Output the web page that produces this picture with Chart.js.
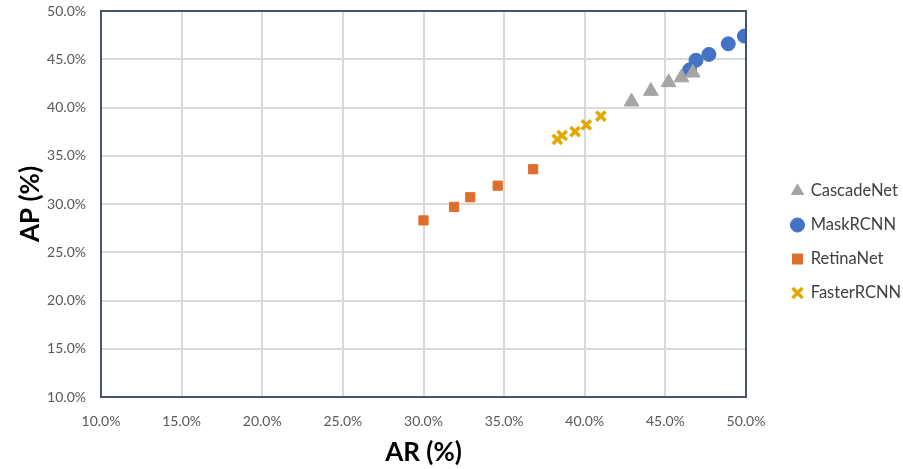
<!DOCTYPE html>
<html>
<head>
<meta charset="utf-8">
<script src="https://cdn.jsdelivr.net/npm/chart.js@4/dist/chart.umd.min.js"></script>
<style>
  html, body { margin: 0; padding: 0; background: #ffffff; }
  #wrap { width: 903px; height: 469px; }
</style>
</head>
<body>
<div id="wrap"><canvas id="c" width="903" height="469"></canvas></div>
<script>
// Recall (AR, %) vs precision (AP, %) for each detector family
const cascadeAR = [42.9, 44.1, 45.2, 46.0, 46.7];
const cascadeAP = [40.6, 41.7, 42.6, 43.1, 43.6];
const maskAR = [46.5, 46.9, 47.7, 48.9, 49.9];
const maskAP = [43.9, 44.9, 45.5, 46.6, 47.4];
const retinaAR = [30.0, 31.9, 32.9, 34.6, 36.8];
const retinaAP = [28.3, 29.7, 30.7, 31.9, 33.6];
const fasterAR = [38.3, 38.6, 39.4, 40.1, 41.0];
const fasterAP = [36.7, 37.1, 37.5, 38.2, 39.1];

const seriesNames = ['CascadeNet', 'MaskRCNN', 'RetinaNet', 'FasterRCNN'];
const axisTicks = [10, 15, 20, 25, 30, 35, 40, 45, 50];

const pairs = (xs, ys) => xs.map((x, i) => ({ x: x, y: ys[i] }));
const pct = v => v.toFixed(1) + '%';

// Dark frame around the plotting area
const frame = {
  id: 'frame',
  afterDatasetsDraw(chart) {
    const a = chart.chartArea, ctx = chart.ctx;
    ctx.save();
    ctx.strokeStyle = '#44546A';
    ctx.lineWidth = 2;
    ctx.strokeRect(a.left, a.top, a.right - a.left, a.bottom - a.top);
    ctx.restore();
  }
};

// Reserve a fixed-width column for the legend and inset its entries
const LEGEND_WIDTH = 157;
const LEGEND_INSET = 29;
const LEGEND_DROP = 2;
const legendColumn = {
  id: 'legendColumn',
  beforeLayout(chart) {
    const lg = chart.legend;
    if (lg && !lg._fixedFit) {
      const fit = lg.fit;
      lg.fit = function () { fit.call(this); this.width = LEGEND_WIDTH; };
      lg._fixedFit = true;
    }
  },
  afterLayout(chart) {
    const lg = chart.legend;
    if (lg) {
      lg.left += LEGEND_INSET; lg.right += LEGEND_INSET;
      lg.top += LEGEND_DROP; lg.bottom += LEGEND_DROP;
    }
  }
};

// Keep edge tick labels from pushing the plot area inward
const noEdgePadding = s => { s.paddingTop = 0; s.paddingBottom = 0; s.paddingLeft = 0; s.paddingRight = 0; };

const FONT = 'Lato, "Open Sans", sans-serif';

new Chart(document.getElementById('c'), {
  type: 'scatter',
  data: {
    datasets: [
      { label: seriesNames[0], data: pairs(cascadeAR, cascadeAP), pointStyle: 'triangle',
        backgroundColor: '#A5A5A5', borderColor: '#A5A5A5', pointRadius: 8.5, borderWidth: 1 },
      { label: seriesNames[1], data: pairs(maskAR, maskAP), pointStyle: 'circle',
        backgroundColor: '#4472C4', borderColor: '#4472C4', pointRadius: 7, borderWidth: 1 },
      { label: seriesNames[2], data: pairs(retinaAR, retinaAP), pointStyle: 'rect',
        backgroundColor: '#DE6E2B', borderColor: '#DE6E2B', pointRadius: 6.5, borderWidth: 1 },
      { label: seriesNames[3], data: pairs(fasterAR, fasterAP), pointStyle: 'crossRot',
        backgroundColor: '#E3A800', borderColor: '#E3A800', pointRadius: 6.5, borderWidth: 3.5 }
    ]
  },
  options: {
    responsive: false,
    animation: false,
    events: [],
    layout: { padding: { top: 11, right: 0, bottom: 0, left: 0 } },
    plugins: {
      tooltip: { enabled: false },
      legend: {
        position: 'right',
        align: 'center',
        labels: {
          usePointStyle: true,
          boxHeight: 10,
          boxWidth: 10,
          padding: 17.5,
          color: '#404040',
          font: { family: FONT, size: 16.5 }
        }
      }
    },
    scales: {
      x: {
        type: 'linear',
        min: 10, max: 50,
        afterBuildTicks(s) { s.ticks = axisTicks.map(v => ({ value: v })); },
        afterFit(s) { s.height = 72; noEdgePadding(s); },
        grid: { color: '#D9D9D9', lineWidth: 2, drawTicks: false },
        border: { display: false },
        ticks: { padding: 16, color: '#595959', font: { family: FONT, size: 14 }, callback: v => pct(v) },
        title: { display: true, text: 'AR (%)', color: '#000000', padding: { top: 4, bottom: 1 },
                 font: { family: FONT, size: 26, weight: 'bold' } }
      },
      y: {
        type: 'linear',
        min: 10, max: 50,
        afterBuildTicks(s) { s.ticks = axisTicks.map(v => ({ value: v })); },
        afterFit(s) { s.width = 101; noEdgePadding(s); },
        grid: { color: '#D9D9D9', lineWidth: 2, drawTicks: false },
        border: { display: false },
        ticks: { padding: 15, color: '#595959', font: { family: FONT, size: 14 }, callback: v => pct(v) },
        title: { display: true, text: 'AP (%)', color: '#000000', padding: { top: 15, bottom: 4 },
                 font: { family: FONT, size: 26, weight: 'bold' } }
      }
    }
  },
  plugins: [frame, legendColumn]
});
</script>
</body>
</html>
